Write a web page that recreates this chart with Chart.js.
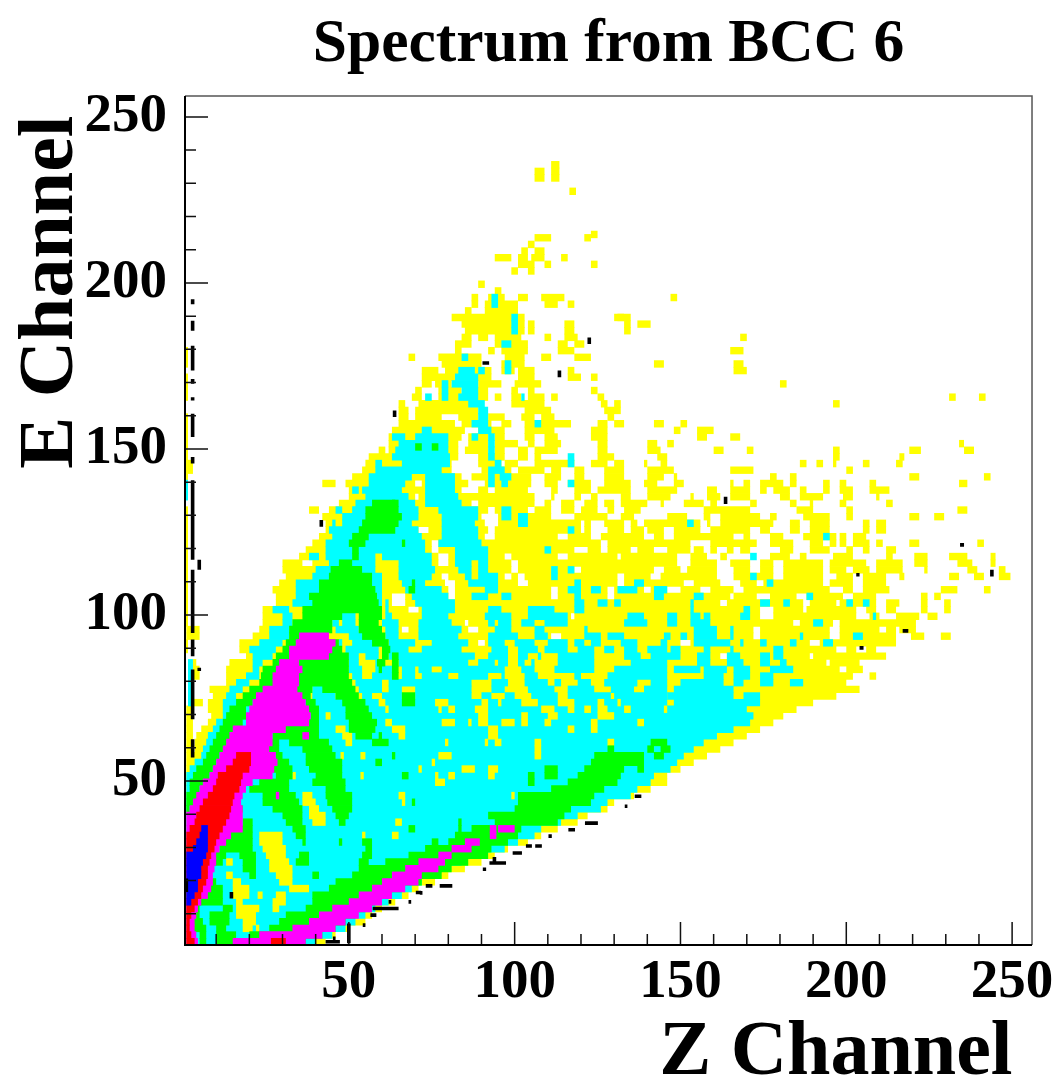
<!DOCTYPE html>
<html><head><meta charset="utf-8">
<style>html,body{margin:0;padding:0;background:#fff}canvas{display:block}</style>
<script src="https://cdn.jsdelivr.net/npm/chart.js@4"></script>
</head><body><canvas id="c" width="1059" height="1083"></canvas>
<script>
// Every row: [E channel centre, z0, z1, z0, z1, ...] spans of one colour level.
const yellowRows = [
[236,111,113.5],[234,111,113.5,106,109],[232,106,109,111,113.5],[228,116.5,118.5],
[215,123,125],[214,106,111,121,123],[212,104,106],[210,102,104,106,109],[208,94,99,101,104,105,109,114,116],[206,101,106,109,111,123,125],[204,99,101,104,106],
[200,89,91],[198,94,96],[196,87,89,92,97,101,104,108,115,147,149],[194,87,89,91,101,109,113,116,118],[192,85,87,91,101],[190,81,103,130,133,131,135],[188,84,103,104,106,115,118,133,135,137,141],[186,85,103,104,106,115,118,133,135],
[184,84,87,89,92,94,102,109,111,115,119,168,170],[182,82,87,94,104,113,116,118,121],[180,0.6,1.5,82,84,92,94,96,104,113,118,165,169],[178,0.6,1.5,68,70,77,90,97,103,108,111,118,123],[176,0.6,1.5,78,90,96,103,142,145,166,169],[174,72,77,79,93,96,100,101,106,116,118,166,170],
[172,0.6,1.5,72,82,88,93,101,106,116,120,123,125],[170,0.6,1.5,72,75,76,81,89,96,100,108,180,182],[168,0.6,1.5,70,72,77,84,88,92,99,101,104,106,123,125],[166,0.6,1.5,69,72,77,84,88,92,94,96,99,102,104,109,111,113,125,127,231,233,240,242],
[164,65,67,71,87,99,109,126,128,130,132,196,198],[162,65,68,70,89,103,111,127,132],[160,0.6,1.5,65,68,70,78,83,89,92,97,102,106,108,112,128,130],[158,0.6,1.5,65,82,84,89,91,93,96,99,103,117,125,128,130,133,142,145,150,152],
[156,0.6,1.5,63,85,89,97,103,112,123,128,148,150,155,160],[154,0.6,1.5,62,84,86,92,94,97,103,106,109,113,123,128,155,158,165,168],[152,0.6,1.5,62,83,86,92,94,101,104,106,109,114,125,128,140,143,146,148,234,235.5],[150,0.6,1.5,59,61,62,83,85,92,94,97,101,104,106,113,125,128,140,144,160,163,170,172,196,198,219,222.5,235.5,238.5],
[148,0.6,1.5,56,83,89,97,101,104,106,108,125,130,143,146,196,198,216,217.5],
[146,0.6,3,55,81,89,96,97,101,106,118,123,128,130,133,139,140,144,146,186,188,191,193,196,197,205,207,215,217],
[144,0.6,3,54,81,90,99,101,109,111,114,118,121,127,133,140,148,165,172,200,202],
[142,0.6,1.5,51,84,87,105,109,114,118,121,127,133,140,145,148,149,177,179,183,185,219,222,241.5,243.5],
[140,42,46,49,70,72,86,91,105,109,113,116,123,127,135,139,143,148,151,165,166,169,171,174,181,183,185,193,195,198,200,207,209,234,236.5],
[138,50,84,89,92,94,104,111,113,118,123,125,135,140,149,158,161,165,171,174,176,178,183,186,188,193,195,198,202,207,213],
[136,50,70,71,106,111,112,118,120,123,125,132,135,140,147,153,154,158,162,165,171,180,183,186,193,199,202,209,210],
[134,47,87,89,106,109,111,114,118,121,125,127,130,132,140,144,145,151,157,159,161,171,173,183,185,189,190,198,200,212,214],
[132,0.6,1.5,38,41,44,92,94,104,106,111,114,118,120,125,128,130,133,138,157,171,185,190,200,202,233.5,236.5],
[130,0.6,1.5,42,90,95,111,118,128,132,136,146,152,157,159,162,174,177,179,187,195,200,202,219,222,226.5,229.5],
[128,0.6,1.5,43,91,95,120,121,123,127,133,135,137,139,156,158,159,162,178,183,186,189,195,205,207,209,212],
[126,0.6,1.5,43,71,74,92,94,120,121,123,128,133,135,139,140,145,148,156,159,171,174,177,183,186,189,195,205,207,209,212],
[124,0.6,1.5,41,91,94,113,116,123,126,139,142,145,148,166,169,171,177,181,187,197,198,200,202,206],
[122,0.6,1.5,39,75,77,126,128,153,159,173,177,184,189,193,195,197,198,200,202,207,209,211,219,222,239.5,241.5],
[120,0.6,1.5,37,75,77,118,122,126,128,135,137,142,146,153,154,157,159,161,164,166,168,171,180,184,189,195,200,202,205,207,212,215],
[118,0.6,1.5,35,77,80,97,99,113,116,131,132,149,153,158,162,164,177,183,186,188,196,202,212,214,220.5,224.5,231,236.5,243.5,245],
[116,0.6,1.5,30,36,39,77,80,99,101,149,153,161,165,171,174,178,181,193,195,206,209,217,220.5,224.5,233.5,238,243.5,245],
[114,0.6,1.5,30,99,101,118,120,142,145,150,152,161,166,171,174,178,181,193,195,200,202,207,209,217,223.5,224.5,236.5,239.5,246,248],
[112,0.6,1.5,31,78,80,97,99,101,103,131,133,141,144,161,166,178,181,193,197,202,205,212,216,217.5,231,234,238.5,241.5,246,249.5],
[110,0.6,1.5,29,79,82,101,104,131,133,151,154,162,168,173,175,193,195,202,205,212],
[108,0.6,1.5,27,80,82,111,113,128,130,139,141,146,150,156,159,166,169,195,199,202,205,213,228.5,233.5,241.5,243.5],
[106,0.6,1.5,28,63,67,80,82,111,113,128,130,165,166,173,177,185,188,199,202,209,222.5,224.5,226.5,228.5],
[104,0.6,1.5,28,63,67,162,164,187,189,197,198,209,212,216,222.5,224.5,229.5,231.5],
[102,0.6,1.5,24,68,71,174,178,187,188,203,206,209,212,215,222.5,224.5,229.5,231.5],
[100,0.6,1.5,24,117,118,174,178,203,207,210,215,222,224.5,227.5],
[98,0.6,1.5,24,85,86,184,186,196,198,221],
[96,1,5,23,66,68,86,89,172,174,195,198,210,212,215,216,221],
[94,1,5,21,111,114,172,174,195,198,215,219.5,223.5,228.5,231.5],
[92,0.6,1.5,17,89,91,150,153,189,192,215],
[90,0.6,1.5,17,197,200,203,206,209],
[88,19,162,164,189,190,212],
[86,3,4,14,194,195,204],
[84,3,5,13,198,200,205],
[82,3,5,13,202,207,209],
[80,13,200],
[78,8,204],
[76,9,197],
[74,3,6,7.5,190],
[72,1,3,7.5,185],[70,1,3,8.5,181],[68,1,3,7.5,178],[66,1,3,5.5,174],[64,1,3,4,170],[62,1,3,3.5,166],[60,1,3,3.5,162],[58,1,158],[56,1,154],[54,1,150],
[52,1,146],[50,1,146],[48,1,141],[46,1,136],[44,1,130],[42,1,128],[40,1,122],[38,1,119],[36,1,113],[34,1,108],[32,1,104],[30,1,98],[28,1,94],[26,1,90],[24,1,85],[22,1,80],[20,1,76],[18,1,71],[16,1,68],[14,1,64],[12,1,60],[10,1,57],[8,1,55],[6,1,50],[4,1,46],[2,1,43]
];
const cyanRows = [
[196,93,95],[194,93,95],[190,99,101],[188,99,101],[186,99,101],[182,96,99],[178,84,86],[176,97,99],[174,83,88,89,91,97,99],[172,82,89],[170,78,80,81,89],[168,78,80,84,89],[166,73,75,78,80,83,89,102,103],[164,86,91],[162,89,92],[160,89,92],[158,87,92,106,108],[156,72,75,89,93],[154,63,67,70,80,87,89,92,94],[152,65,80,92,94],[150,64,80,92,94],[148,63,80.5,92,94,116,118],
[146,58,60,66,80.5,94,96,116,118],[144,58,78,92,97],[142,56,69,73,82,92,94,95.5,99],[140,0.6,1.5,56,67,73,82,92,94,96,98,116,118],[138,0.6,1.5,51,53,54,66,73,82],[136,0.6,1.5,55,68,73,83],[134,52,70,73,84],[132,46,48,51,71,77,89,96,99],[130,48,71,78,89,96,99,101,104],[128,45,46,48,69,78,88,101,104,152,154],[126,44,71,78,89,116,118],[124,45,72,78,89,193,195],[122,43,73,77,90],[120,43,73,82,92,109,111],[118,38,41,43,58,60,75,82,92,171,173],[116,44,58,65,75,82,87,89,92],[114,40,58,65,76,83,87,89,92,111,113,116,118],[112,39,60,65,75,85,87,89,95,111,113,171,173],[110,34,60,66,73,86,95,118,120,136,139,176,178],[108,34,60,67,78,91,95,116,120,123,126,131,137,142,146],[106,34,60,69,80,87,92,96,99,118,120,142,145,154,157,188,190],[104,33,60,61,62,70,82,118,121,125,128,130,132,153,154,174,177,181,183,200,202,205,207],[102,27,32,61,62,72,82,92,96,104,112,118,121,153,154,169,171],[100,30,33,47,52,61,63,72,80,91,99,104,116,134,139,146,149,153,156,157,159,168,171,208,209],[98,30,33,45,47,48,52,60,65,71,81,92,94,95,99,102,106,109,116,133,140,146,149,153,159,190,193],[96,26,32,46,53,61,65,71,84,94,99,106,109,121,122,154,161,165,166],[94,26,32,50,57,61,65,71,83,92,101,106,110,121,126,128,133,145,147,150,152,154,161,165,166,186,187,202,205],[92,23,30,47,48,51,60,62,70,75,86,92,97,100,106,110,116,118,121,123,126,132,137,144,146,154,165,168,169,174,176,183,185,193,196],[90,20,28,49,59,62,68,72,84,93,98,101,107,109,116,119,124,127,130,133,137,140,146,147,150,157,159,165,166,178,181],[88,21,27,49,53,55,59,62,88,92,98,101,104,107,108,113,124,133,138,141,150,155,159,164,168,174,177,178,181],[86,1.5,3,21,24,50,53,58,60,65,86,89,94,95,98,101,103,105,106,113,124,135,146,155,159,164,169,174,177,180,182],[84,1.5,3,21,23,50,54,58,63,66,70,71,75,78,95,95,97,102,106,112,124,130,146,148,156,157,164,166,171,177,184],[82,1.5,3,19,23,51,54,57,63,66,70,72,80,83,92,96,97,103,107,118,120,128,146,157,163,166,171,174,178],[80,1.5,3,16,20,39,42,52,60,62,87,93,98,103,110,112,114,119,123,127,137,141,146,150,163,166,169,174,178,183,187],[78,1.5,3,14,18,39,46,53,60,62,66,70,87,93,97,104,112,116,124,129,136,139,146,148,166],[76,1.5,3,13,16,39,46,54,57,60,66,70,87,90,93,97,100,105,113,116,129,130,146,146,166,169,174],
[74,1.5,3,12,146,148,174],[72,12,170],[70,12,172],[68,10,171],[66,9,166],[64,7.5,161],[62,7,157],[60,6,154],[58,5.5,151],[56,3.5,149],[54,2,147],[52,1,142],[50,1,141],[48,1,137],[46,1,135],[44,1,128],[42,1,126],[40,1,119],[38,1,114],[36,1,108],[34,1,106],[32,1,101],[30,1,97],[28,1,91],[26,1,84],[24,1,78],[22,1,74],[20,1,72],[18,1,69],[16,1,66],[14,1,62],[12,1,58],[10,1,55],[8,1,52],[6,1,49],[4,1,45],[2,1,40]
];
const yellowPatches = [
[74,59,61,76,80,90,92,95,96,102,107,113,118,125,127,131,132],[72,61,62,77,78,80,82,88,92,108,112,116,118,121,123,125,128,133,135,145,146],[70,43,44.5,89,92,102,104,110,113,125,130],[68,61,63,78,82,86,87,89,92,96,100,102,104,109,111,123,125,137,139],[66,46,49,63,67,92,95,116,118,123,125],[64,48,51,65,67,92,95],[62,49,51,79,80,91,92,94,96,106,108,128,130],[60,106,108],[58,47.5,48.5,53.5,55,77,81,106,108],[56,75,76],[54,71,72,84,88,92,95],[52,33,34,53.5,54.5,76,77,80,82,92,94],[50,76,79],[46,36,39,65,67,99,100],[44,36,40,66,67],[42,38,41],[40,38,43],[38,39,43,64,66],[34,23,30,54,55,63,65],[32,23,30],[30,24,31],[28,25,31],[26,13,15,26,32],[24,26,33],[22,13,15,28,33],[20,15,17.5,29,33],[18,15,20,32,38],[16,15,20,22.5,24,28,31],[14,16,18,27,31],[12,16,23,27,29],[10,16,22],[8,18,22],[6,18,21,22,23]
];
const greenRows = [
[151,70,72,75,77],[134,57,64,63,65],[132,55,65],[130,55,66],[128,54,65],[126,53,64],[124,51,56],[122,50,55,66,67],[120,51,53],[118,51,53],[116,47,51],[114,44.5,54],[112,44,57],[110,41,57,69,70],[108,41,58,68,70],[106,38,58.5],[104,39,59],[102,36,60],[100,36,48,53,60],[98,33,45,53,59],[96,32,45,53,60],[94,32,43,54,61],[92,31,47,57,62],[90,30,48,60,62.5],[88,28,50,60,62,63,65],[86,27,50,58.5,61,63,65],[84,24,50,59,60,63,65],[82,23.5,50,63,65],[80,23,51],[78,20,39,42,52],[76,18,38.5,46,53,66,70],[74,16,21,37,40,48,55,66,70],[72,14,19,38,41,49,56],[70,13,19,38.5,41,49,57],[68,12,18,38,41,50,58.5],[66,11,16,28,41,50,58],[64,10,15,27,41,52,57,59,60],[62,9,13.5,26,29,32,44,57,62,141,146],[60,8,12.5,25,29,36,45,128,130,140,142,144,147],[58,7,11,28,30,37,46,63,64,124,139,142,145],[56,6,10,28,32,37,48,58,60,123,139],[54,4,9,27,33,38,48,121,133,137,139,109,113],[52,3,8,28,33,40,48,66,68,104,106,109,113,119,132],[50,2,6,23,32,39,49,104,106,116,131],[48,2,5,20,32,43,49,111,127],[46,1,5,24,34,43,51,101,124],[44,1,3,24,35,43.5,51,69,70,101,123],[42,1,2,17.5,18,27,36,45,51,100,117],[40,30,36,46,50,92,115],[38,18,21,31,36,47,49,83,84,94,113],[36,17,21,33,37,68,70,83,84,87,102],[34,13,21,34,37,82,101],[32,11,21,36,37,47,48,54,57,75,77,80,98],[30,11,21,55,57,73,93],[28,9,13,17,22,35,38,54,57,68,92],[26,9,12,18,22,34,38,53,56,61,86],[24,18,22,53,81],[22,20,22,39,41,51,78],[20,7,10,46,72],[18,7,12,44,66],[16,4,12,39,63],[14,4,12,39,58],[12,4,5,12,15,37,55],[10,3,5,8,14,31,52],[8,3,6,8,14,29,49],[6,3,7,10,13,26,46],[4,5,7,10,16,20,42],[2,5,7,10,37]
];
const magentaRows = [
[94,35,44],[92,34,46],[90,32,45],[88,32,44],[86,29,35],[84,28,36],[82,27,35],[80,27,35],[78,24,34.5],[76,22,36],[74,21,37],[72,20,38],[70,19,38.5],[68,19,38],[66,15,31],[64,14,27,36,38],[62,13,27],[60,12,26],[58,11,28],[56,10,28.5],[54,9,27.5],[52,8,27],[50,6,21],[48,5,19],[46,4,18,28,29],[44,3,17.5],[42,2,18],[40,1,18],[38,1,18],[36,1,18,92.5,94.5,95,100],[34,1,14.5,92.5,94.5],[32,1,13,85,89.5],[30,1,11,81,87],[28,1,10,77,81],[26,1,10,71,79],[24,1,9.5,67,77],[22,1,9,63,72],[20,1,9,60,71],[18,1,8.5,57,67],[16,2,7.5,53,63],[14,1,5.5,50,60],[12,1,4.5,45,57],[10,1,4,41,53],[8,1,3.5,38,49],[6,1,3.5,33,46],[4,1,4,23,42],[2,1,4.5,15,37]
];
const redRows = [
[58,16,20.5],[56,15,20.5],[54,13,20],[52,10.5,18],[50,10,17.5],[48,9,17],[46,7.5,15.5],[44,6,15],[42,5,14.5],[40,4,14],[38,3.5,13],[36,2,12],[34,1,11],[32,1,10],[30,1,9.5],[28,1,8.5],[26,1,8],[24,1,7.5],[22,1,7.5],[20,1,7],[18,1,6],[16,1,5.5],[14,1,4.5],[12,1,3.5],[10,1,2.5],[8,1,2],[6,1,2],[4,1,2.5],[2,1,3.5,26.5,31]
];
const blueRows = [
[36,5.5,7.5],[34,5,7.5],[32,4,7.5],[30,3,7.5],[28,1,7],[26,1,6],[24,1,5.5],[22,1,5.5],[20,1,4.5],[18,1,4.5],[16,1,3.5],[14,1,2.5]
];
// Overflow-bin specks in black: [z0, e0, z1, e1]
const blackSegments = [
[2.9,194,2.9,195.5],[2.9,186,2.9,189],[2.9,174,2.9,181.5],[2.9,170,2.9,171.5],[2.9,165,2.9,166],[2.9,154,2.9,161],[2.9,146,2.9,148],[2.9,117,2.9,141],[4.9,114,4.9,117],[2.9,95,2.9,114],[2.9,88,2.9,93],[4.9,83.5,4.9,84.5],[2.9,69,2.9,84],[2.9,57.5,2.9,63],[1,17,1,21],[14.6,15,14.6,17],[41.7,127,41.7,129],
[71.4,16.7,72.2,16.7],[73.6,18.8,75.2,18.8],[77.4,18.8,81.2,18.8],[90.4,23.8,91.4,23.8],[92.4,25.7,97.4,25.7],[93.9,26,93.9,27.5],[99.4,28.7,102.2,28.7],[103.4,30.8,105.2,30.8],[106.2,30.8,108.2,30.8],[110.2,33.8,111.2,33.8],[116.2,35.7,118.2,35.7],[121.2,37.7,125.1,37.7],[133.2,42.8,134,42.8],[136.2,45.8,138.2,45.8],
[43,2,47.3,2],[45.2,3,46,3],[50,1.5,50,7.5],[54.2,7,55,7],[56.5,10,58.3,10],[57.2,12,65,12],[62,14,62.8,14],[68,14,68.8,14],[70.2,16.8,71.8,16.8],[73.2,18.8,74,18.8],
[163.6,133.8,163.6,136],[203,112.5,204,112.5],[204,90.5,205.2,90.5],[217,95.6,218.7,95.6],[90.3,176.3,92.3,176.3],[63.8,160,63.8,162],[113.5,172,113.5,174],[122.5,182,122.5,184],[234.3,121.5,235.5,121.5],[243.9,112,243.9,114]
];
const majorTicks = [50,100,150,200,250];
const minorTicks = [10,20,30,40,60,70,80,90,110,120,130,140,160,170,180,190,210,220,230,240];
const titleText = 'Spectrum from BCC 6';
const xTitle = 'Z Channel ';
const yTitle = 'E Channel ';
const FONT = "'Liberation Serif'";
const ROW_SHIFT = -0.4;

function spans(rows){
  const out=[];
  for(const r of rows){for(let i=1;i+1<r.length;i+=2){out.push({y:r[0]+ROW_SHIFT,x:[r[i],r[i+1]]});}}
  return out;
}
function level(label,rows,color,order){
  return {type:'bar',label,data:spans(rows),backgroundColor:color,borderWidth:0,barThickness:7.4,grouped:false,order,inflateAmount:0};
}
function segs(list){
  const out=[];
  for(const s of list){out.push({x:s[0],y:s[1]+ROW_SHIFT},{x:s[2],y:s[3]+ROW_SHIFT},{x:null,y:null});}
  return out;
}
const frameTicks = {
  id:'frameTicks',
  afterDatasetsDraw(chart){
    const {ctx,chartArea:a,scales:{x,y}}=chart;
    ctx.save();
    ctx.strokeStyle='#111';ctx.lineWidth=1.5;ctx.beginPath();
    const tick=(v,len)=>{
      const px=x.getPixelForValue(v),py=y.getPixelForValue(v);
      ctx.moveTo(px,a.bottom);ctx.lineTo(px,a.bottom-len);
      ctx.moveTo(a.left,py);ctx.lineTo(a.left+len,py);
    };
    majorTicks.forEach(v=>tick(v,23));minorTicks.forEach(v=>tick(v,11));
    ctx.stroke();
    ctx.strokeStyle='#555';ctx.lineWidth=1.5;ctx.beginPath();
    ctx.moveTo(a.left,a.top);ctx.lineTo(a.right,a.top);ctx.lineTo(a.right,a.bottom);ctx.stroke();
    ctx.strokeStyle='#000';ctx.lineWidth=2;ctx.beginPath();
    ctx.moveTo(a.left,a.top);ctx.lineTo(a.left,a.bottom);ctx.lineTo(a.right,a.bottom);ctx.stroke();
    ctx.restore();
  }
};
new Chart(document.getElementById('c'),{
  data:{datasets:[
    {type:'line',label:'overflow',data:segs(blackSegments),borderColor:'#000',borderWidth:3.6,pointRadius:0,spanGaps:false,order:0,tension:0},
    level('level 6',blueRows,'#0000ff',1),
    level('level 5',redRows,'#ff0000',2),
    level('level 4',magentaRows,'#ff00ff',3),
    level('level 3',greenRows,'#00ff00',4),
    level('level 1 spots',yellowPatches,'#ffff00',5),
    level('level 2',cyanRows,'#00ffff',6),
    level('level 1',yellowRows,'#ffff00',7)
  ]},
  plugins:[frameTicks],
  options:{
    indexAxis:'y',responsive:false,animation:false,devicePixelRatio:1,
    layout:{padding:{top:0,right:26,left:0,bottom:0}},
    plugins:{
      legend:{display:false},tooltip:{enabled:false},
      title:{display:true,text:titleText,fullSize:false,color:'#000',font:{family:FONT,weight:'bold',size:61.5,lineHeight:1.2},padding:{top:8,bottom:14.2}}
    },
    scales:{
      x:{type:'linear',position:'bottom',min:0.6,max:256,offset:false,beginAtZero:false,
        afterFit(s){s.height=138;},
        grid:{display:false,drawTicks:false,offset:false},border:{display:false},
        ticks:{stepSize:50,includeBounds:false,autoSkip:false,maxRotation:0,padding:5,color:'#000',font:{family:FONT,weight:'bold',size:55}},
        title:{display:true,text:xTitle,align:'end',color:'#000',padding:0,font:{family:FONT,weight:'bold',size:78,lineHeight:0.75}}},
      y:{type:'linear',position:'left',min:0.6,max:256.3,offset:false,beginAtZero:false,
        afterFit(s){s.width=185;},
        grid:{display:false,drawTicks:false,offset:false},border:{display:false},
        ticks:{stepSize:50,includeBounds:false,autoSkip:false,padding:18,color:'#000',font:{family:FONT,weight:'bold',size:55}},
        title:{display:true,text:yTitle,align:'end',color:'#000',padding:0,font:{family:FONT,weight:'bold',size:78,lineHeight:1.32}}}
    }
  }
});
</script></body></html>
